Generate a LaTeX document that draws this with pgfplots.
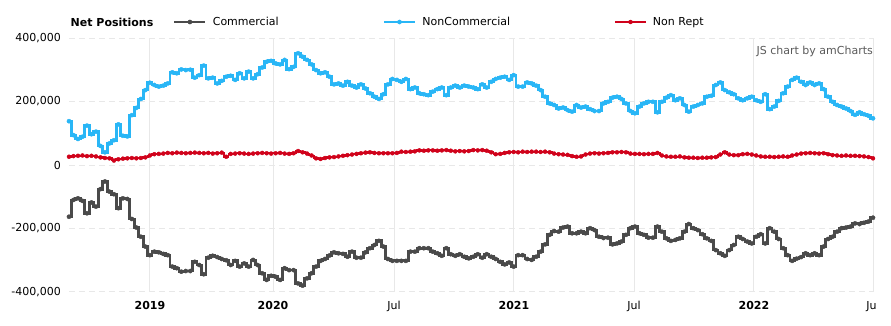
\documentclass[border=0pt]{standalone}
\usepackage{fontspec}
\setmainfont{DejaVu Sans}
\usepackage{pgfplots}
\usepackage{pgfplotstable}
\pgfplotsset{compat=1.18}
\definecolor{cgray}{RGB}{74,74,74}
\definecolor{cblue}{RGB}{41,182,246}
\definecolor{cred}{RGB}{208,2,27}
\definecolor{gridc}{RGB}{232,232,232}
\definecolor{credit}{RGB}{90,90,90}
% columns: b = NonCommercial, g = Commercial, r = Non Rept (thousands)
\pgfplotstableread[row sep=\\]{
b g r\\
138 -163 26\\ 94 -110 28\\ 82 -105 29\\ 89 -113 30\\ 124 -152 28\\ 97 -118 29\\ 105 -131 27\\ 60 -76 24\\
40 -52 22\\ 68 -84 21\\ 78 -92 14\\ 128 -136 18\\ 92 -105 20\\ 90 -107 21\\ 157 -170 22\\ 180 -197 21\\
208 -226 22\\ 236 -257 24\\ 259 -284 30\\ 252 -273 34\\ 247 -275 35\\ 250 -280 36\\ 257 -284 38\\ 292 -320 37\\
289 -325 39\\ 301 -336 38\\ 299 -334 37\\ 300 -334 38\\ 275 -305 39\\
283 -315 38\\ 313 -344 37\\ 273 -292 38\\ 275 -286 36\\ 257 -290 37\\ 265 -296 39\\ 278 -300 26\\ 281 -315 35\\
268 -302 36\\ 289 -320 37\\ 273 -310 36\\ 294 -320 35\\ 273 -299 36\\ 286 -315 37\\ 307 -341 38\\ 325 -362 37\\
328 -349 36\\ 320 -352 37\\ 317 -362 38\\ 331 -325 36\\ 302 -331 35\\ 309 -331 37\\ 352 -373 44\\ 341 -380 40\\
331 -357 36\\ 317 -341 30\\ 299 -320 21\\ 289 -302 19\\ 292 -296 22\\ 278 -285 24\\ 254 -275 25\\
257 -278 27\\ 250 -280 29\\ 262 -289 31\\ 250 -273 33\\ 244 -292 35\\ 254 -292 37\\ 241 -275 39\\ 226 -262 40\\
215 -252 38\\ 208 -239 37\\ 223 -257 37\\ 254 -296 37\\ 271 -302 37\\ 268 -302 38\\ 262 -302 42\\ 271 -302 41\\
239 -273 42\\ 244 -273 43\\ 226 -262 46\\ 223 -262 45\\ 220 -262 46\\ 231 -273 46\\ 239 -278 45\\ 244 -286 46\\
220 -262 47\\ 244 -281 45\\ 250 -286 43\\ 244 -281 44\\ 250 -289 43\\ 247 -294 44\\
244 -289 47\\ 239 -281 46\\ 254 -292 47\\ 244 -281 45\\ 262 -289 40\\ 271 -296 34\\ 275 -305 35\\ 278 -313 38\\
268 -307 40\\ 283 -320 41\\ 247 -284 40\\ 247 -284 42\\ 260 -296 41\\ 257 -299 42\\ 250 -289 42\\ 236 -273 41\\
215 -250 42\\ 194 -220 40\\ 189 -208 36\\ 178 -210 34\\ 181 -197 33\\ 173 -194 32\\ 168 -215 28\\ 189 -215 26\\
181 -210 27\\ 184 -215 33\\ 176 -199 36\\ 170 -205 37\\ 170 -226 36\\ 194 -230 37\\ 199 -229 38\\
212 -250 40\\ 215 -247 40\\ 208 -241 41\\ 194 -220 40\\ 170 -199 36\\ 163 -194 35\\ 184 -215 35\\ 194 -220 34\\
199 -229 35\\ 199 -229 35\\ 166 -194 38\\ 199 -210 30\\ 212 -231 27\\ 220 -239 26\\ 204 -236 26\\ 210 -231 27\\
189 -210 24\\ 168 -186 23\\ 184 -199 23\\ 189 -205 22\\ 194 -218 23\\ 215 -231 23\\ 218 -239 24\\ 252 -268 25\\
260 -278 33\\ 236 -286 40\\ 229 -268 33\\ 223 -252 31\\ 210 -226 31\\
204 -233 34\\ 210 -241 35\\ 215 -247 33\\ 204 -226 30\\ 199 -218 27\\ 223 -247 26\\ 176 -199 26\\ 184 -210 25\\
202 -233 26\\ 226 -262 27\\ 247 -284 26\\ 268 -302 30\\ 275 -295 33\\ 262 -290 36\\ 252 -278 37\\ 260 -284 38\\
252 -278 37\\ 257 -284 36\\ 239 -257 37\\ 215 -233 34\\ 199 -226 31\\ 189 -210 30\\ 184 -199 29\\ 178 -197 30\\
170 -194 29\\ 158 -184 29\\ 166 -186 28\\ 160 -182 27\\ 155 -178 25\\ 147 -166 21\\
}\data
\begin{document}
\begin{tikzpicture}[x=1pt,y=1pt]
\path[use as bounding box] (0,0) rectangle (891,326);
\begin{axis}[
  at={(69pt,34pt)}, anchor=south west,
  scale only axis, width=804pt, height=254pt,
  xmin=0, xmax=179, ymin=-400, ymax=400,
  axis line style={draw=none}, major tick length=0pt,
  xtick={18.03,45.42,72.36,99.07,125.8,152.5,179},
  xticklabels={\textbf{2019},\textbf{2020},Jul,\textbf{2021},Jul,\textbf{2022},Ju\phantom{l}},
  ytick={-400,-200,0,200,400},
  yticklabels={{-400,000},{-200,000},{0},{200,000},{400,000}},
  xmajorgrids, ymajorgrids,
  x grid style={gridc, line width=1pt},
  y grid style={gridc, line width=1pt, dash pattern=on 6pt off 4pt},
  tick label style={font=\fontsize{11}{13}\selectfont, text=black},
  yticklabel style={anchor=east, inner sep=0pt, xshift=-8pt},
  xticklabel style={anchor=base, inner sep=0pt, yshift=-18pt},
  legend columns=-1,
  legend style={draw=none, fill=none, at={(axis description cs:0.1294,1.063)}, anchor=west,
    inner sep=0pt, outer sep=0pt, font=\fontsize{11}{13}\selectfont, nodes={inner sep=0pt},
    /tikz/every odd column/.append style={column sep=6pt},
    /tikz/every even column/.append style={column sep=104pt}},
  legend image code/.code={\draw[mark repeat=2,mark phase=2,#1] plot coordinates {(0pt,0pt) (15.5pt,0pt) (31pt,0pt)};},
]
\addplot[cgray, line width=2.8pt, const plot mark mid, mark=*, mark size=2.1pt, mark options={line width=0.4pt}] table[x expr=\coordindex, y=g]{\data};
\addlegendentry{Commercial}
\addplot[cblue, line width=2.8pt, const plot mark mid, mark=*, mark size=2.1pt, mark options={line width=0.4pt}] table[x expr=\coordindex, y=b]{\data};
\addlegendentry{NonCommercial}
\addplot[cred, line width=1.8pt, const plot mark mid, mark=*, mark size=2pt, mark options={line width=0.4pt}] table[x expr=\coordindex, y=r]{\data};
\addlegendentry{Non Rept}
\end{axis}
\node[anchor=west, inner sep=0pt, font=\bfseries\fontsize{11}{13}\selectfont] at (70.5,304) {Net Positions};
\node[anchor=east, inner sep=0pt, text=credit, font=\fontsize{11}{13}\selectfont] at (873,275) {JS chart by amCharts};
\end{tikzpicture}
\end{document}
